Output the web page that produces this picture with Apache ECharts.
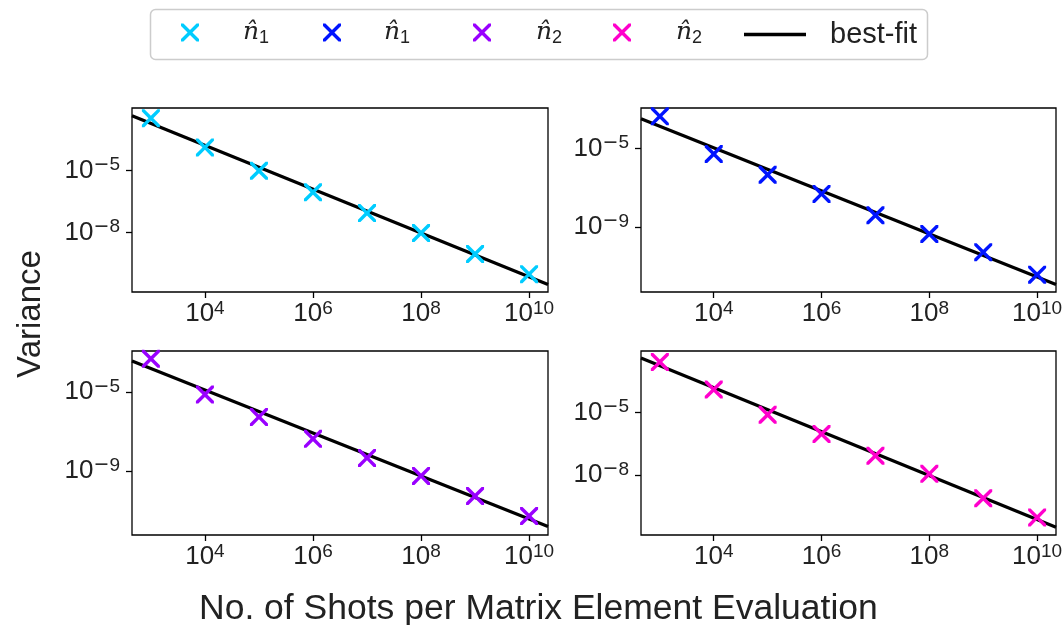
<!DOCTYPE html>
<html>
<head>
<meta charset="utf-8">
<script src="https://cdn.jsdelivr.net/npm/echarts@6/dist/echarts.min.js"></script>
<style>
  html, body { margin: 0; padding: 0; background: #ffffff; }
  #chart { width: 1064px; height: 625px; }
</style>
</head>
<body>
<div id="chart"></div>
<script>
// Shots per matrix element evaluation (shared by every panel)
const shots = [1e3, 1e4, 1e5, 1e6, 1e7, 1e8, 1e9, 1e10];
const shotTicks = [1e4, 1e6, 1e8, 1e10];
const shotRange = [447, 2.24e10];

// Estimated variance per panel
const varN1a = [3.6e-3, 1.36e-4, 1.0e-5, 8.9e-7, 8.7e-8, 9.3e-9, 8.9e-10, 9.3e-11];
const varN1b = [4.5e-4, 5.4e-6, 4.7e-7, 4.9e-8, 4.0e-9, 4.4e-10, 5.2e-11, 3.7e-12];
const varN2a = [5.0e-4, 7.6e-6, 5.5e-7, 4.2e-8, 4.5e-9, 5.5e-10, 5.2e-11, 5.0e-12];
const varN2b = [2.75e-3, 1.29e-4, 7.9e-6, 9.3e-7, 8.3e-8, 1.12e-8, 7.4e-10, 8.9e-11];

// Best-fit line values at the two ends of the shot range
const fitN1a = [4.7e-3, 2.9e-11];
const fitN1b = [3.4e-4, 1.15e-12];
const fitN2a = [3.8e-4, 1.45e-12];
const fitN2b = [4.3e-3, 2.95e-11];

// Variance axis limits and tick values
const rangeN1a = [1.26e-11, 1.12e-2];
const rangeN1b = [4.8e-13, 1.2e-3];
const rangeN2a = [5.4e-13, 1.24e-3];
const rangeN2b = [1.26e-11, 9.3e-3];
const ticksN1a = [1e-8, 1e-5];
const ticksN1b = [1e-9, 1e-5];
const ticksN2a = [1e-9, 1e-5];
const ticksN2b = [1e-8, 1e-5];

// Legend entries: hat-n estimator with subscript
const legendSubs = ['1', '1', '2', '2'];
const fitName = 'best-fit';
const xTitle = 'No. of Shots per Matrix Element Evaluation';
const yTitle = 'Variance';

const FONT = '"Liberation Sans", Arial, sans-serif';
const INK = '#222222';
// Filled "x" marker outline (20x20 units)
const XMARK = 'path://M0 0L2.7 0L10 7.3L17.3 0L20 0L20 2.7L12.7 10L20 17.3L20 20L17.3 20L10 12.7L2.7 20L0 20L0 17.3L7.3 10L0 2.7Z';
// Thick horizontal bar used as the best-fit legend handle
const BAR = 'path://M0 0L62 0L62 3.4L0 3.4Z';

const panels = [
  { name: 'n1 (a)', color: '#00ccff', values: varN1a, fit: fitN1a, range: rangeN1a, ticks: ticksN1a, rect: [132, 108, 416, 184] },
  { name: 'n1 (b)', color: '#0014ff', values: varN1b, fit: fitN1b, range: rangeN1b, ticks: ticksN1b, rect: [641, 108, 415, 184] },
  { name: 'n2 (a)', color: '#9900ff', values: varN2a, fit: fitN2a, range: rangeN2a, ticks: ticksN2a, rect: [132, 351, 416, 184] },
  { name: 'n2 (b)', color: '#ff00cc', values: varN2b, fit: fitN2b, range: rangeN2b, ticks: ticksN2b, rect: [641, 351, 415, 184] }
];

// Power-of-ten tick label: base 10 with a raised exponent (wide minus sign)
function powerLabel(v) {
  const e = Math.round(Math.log10(v));
  const sign = e < 0 ? '{m|\u2212}' : '';
  return '{b|10}' + sign + '{e|' + Math.abs(e) + '}';
}

const tickRich = {
  b: { fontFamily: FONT, fontSize: 26, color: INK, lineHeight: 30 },
  m: { fontFamily: '"DejaVu Sans", sans-serif', fontSize: 19, color: INK, lineHeight: 18, verticalAlign: 'top' },
  e: { fontFamily: FONT, fontSize: 19, color: INK, lineHeight: 18, verticalAlign: 'top' }
};

const grids = [], xAxes = [], yAxes = [], series = [];
panels.forEach((p, i) => {
  grids.push({
    left: p.rect[0], top: p.rect[1], width: p.rect[2], height: p.rect[3],
    containLabel: false, outerBoundsMode: 'none',
    show: true, borderColor: '#000', borderWidth: 1.3, backgroundColor: '#fff'
  });
  xAxes.push({
    type: 'log', logBase: 10, gridIndex: i, min: shotRange[0], max: shotRange[1],
    axisLine: { show: false },
    splitLine: { show: false },
    minorTick: { show: false },
    axisTick: { show: true, inside: false, length: 6, customValues: shotTicks, lineStyle: { color: '#000', width: 1.3 } },
    axisLabel: { customValues: shotTicks, formatter: powerLabel, rich: tickRich, margin: 7, hideOverlap: false }
  });
  yAxes.push({
    type: 'log', logBase: 10, gridIndex: i, min: p.range[0], max: p.range[1],
    axisLine: { show: false },
    splitLine: { show: false },
    minorTick: { show: false },
    axisTick: { show: true, inside: false, length: 6, customValues: p.ticks, lineStyle: { color: '#000', width: 1.3 } },
    axisLabel: { customValues: p.ticks, formatter: powerLabel, rich: tickRich, margin: 12, hideOverlap: false }
  });
  series.push({
    type: 'line', name: fitName, xAxisIndex: i, yAxisIndex: i,
    data: [[shotRange[0], p.fit[0]], [shotRange[1], p.fit[1]]],
    symbol: 'none', showSymbol: false,
    lineStyle: { color: '#000', width: 3.2 }, itemStyle: { color: '#000' },
    silent: true, z: 2
  });
  series.push({
    type: 'scatter', name: p.name, xAxisIndex: i, yAxisIndex: i,
    data: shots.map((x, k) => [x, p.values[k]]),
    symbol: XMARK, symbolSize: 18,
    itemStyle: { color: p.color, opacity: 1 },
    silent: true, z: 3
  });
});

// One legend block per entry, laid out along the framed strip at the top
const legendRich = {
  t: { fontFamily: FONT, fontSize: 29, color: INK, lineHeight: 30 },
  i: { fontFamily: '"DejaVu Serif", serif', fontStyle: 'italic', fontSize: 25, color: INK, lineHeight: 30 },
  s: { fontFamily: FONT, fontSize: 18, color: INK, lineHeight: 18, verticalAlign: 'bottom' }
};
const legendSlots = [
  { left: 181, pad: 39 },
  { left: 323, pad: 38 },
  { left: 473, pad: 40 },
  { left: 613, pad: 40 }
];
const legends = panels.map((p, k) => ({
  data: [p.name],
  left: legendSlots[k].left, top: 20, padding: 0,
  itemWidth: 18, itemHeight: 18,
  selectedMode: false, z: 5,
  formatter: () => '{i|n\u0302}{s|' + legendSubs[k] + '}',
  textStyle: { padding: [0, 0, 0, legendSlots[k].pad], rich: legendRich }
}));
legends.push({
  data: [{ name: fitName, icon: BAR }],
  left: 744, top: 20, padding: 0,
  itemWidth: 62, itemHeight: 18,
  selectedMode: false, z: 5,
  formatter: () => '{t|' + fitName + '}',
  textStyle: { padding: [0, 0, 0, 19], rich: legendRich }
});

const option = {
  animation: false,
  backgroundColor: '#fff',
  grid: grids,
  xAxis: xAxes,
  yAxis: yAxes,
  series: series,
  legend: legends,
  graphic: [
    { type: 'rect', z: 1, shape: { x: 150.5, y: 9.5, width: 777, height: 50, r: 5 }, style: { fill: '#fff', stroke: '#cccccc', lineWidth: 1.5 } },
    { type: 'text', left: 199, top: 591, style: { text: xTitle, fontFamily: FONT, fontSize: 35.5, fill: INK } },
    { type: 'text', x: 31, y: 314, rotation: Math.PI / 2, style: { text: yTitle, fontFamily: FONT, fontSize: 33, fill: INK, align: 'center', verticalAlign: 'middle' } }
  ]
};

const chart = echarts.init(document.getElementById('chart'), null, { renderer: 'canvas' });
chart.setOption(option);
</script>
</body>
</html>
